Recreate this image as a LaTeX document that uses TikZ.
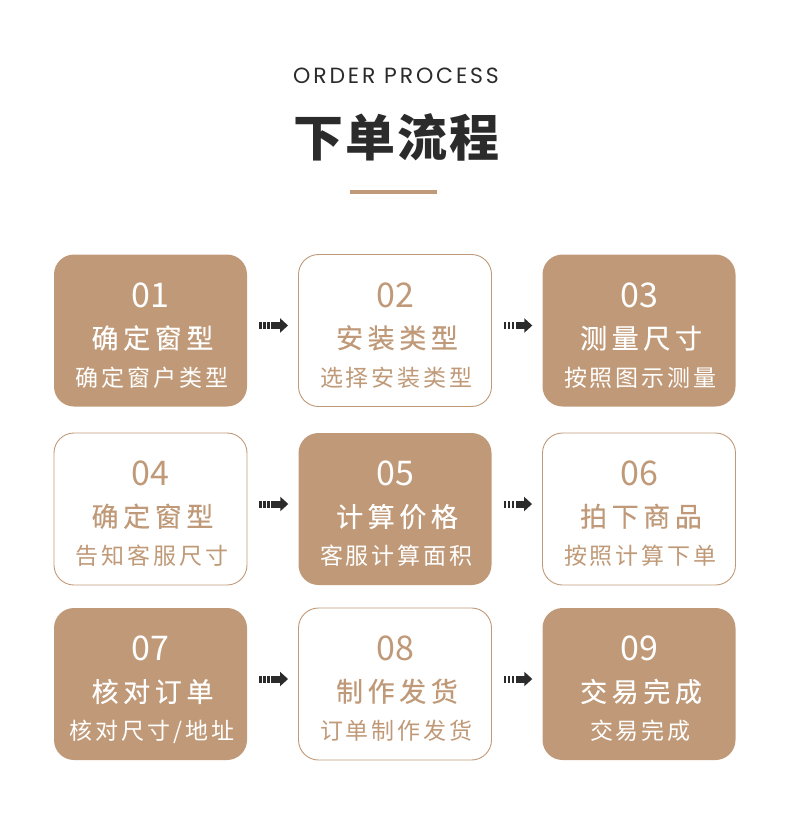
\documentclass[tikz,border=0pt]{standalone}
\usepackage{fontspec}
\setmainfont{Noto Sans CJK SC}
\newfontfamily\headfont[LetterSpace=13]{Poppins}
\newfontfamily\cardhead[FakeBold=0.4, LetterSpace=17]{Noto Sans CJK SC}
\newfontfamily\cardsub[LetterSpace=13]{Noto Sans CJK SC}
\newfontfamily\titlefont[LetterSpace=4]{Noto Sans CJK SC}
\usetikzlibrary{arrows.meta, positioning}
\definecolor{tan}{HTML}{C09A78}
\definecolor{ink}{HTML}{2B2B2B}

\begin{document}
\begin{tikzpicture}[
  x=1pt, y=-1pt,
  every node/.style = {inner sep=0pt},
  card/.style = {
    minimum width=193pt,
    minimum height=152pt,
    rounded corners=20pt
  },
  solid card/.style = {
    card,
    fill=tan
  },
  open card/.style = {
    card,
    fill=white,
    draw=tan,
    line width=0.9pt
  },
  num/.style = {anchor=base, font=\fontsize{34}{34}\selectfont},
  head/.style = {anchor=base, xshift=2pt, font=\cardhead\fontsize{27}{27}\selectfont},
  sub/.style = {anchor=base, xshift=1.5pt, font=\cardsub\fontsize{23}{23}\selectfont},
  flow/.style = {
    ink,
    line width=7pt,
    dash pattern=on 2.5pt off 1.5pt on 2.5pt off 1.5pt on 2.5pt off 1.5pt on 40pt off 0pt,
    -{Triangle[length=8pt, width=14pt]}
  }
]
\useasboundingbox (0,0) rectangle (790,822);

% heading
\node[font=\headfont\fontsize{22}{22}\selectfont, text=ink] (en) at (396,76) {ORDER PROCESS};
\node[font=\titlefont\bfseries\fontsize{50}{50}\selectfont, text=ink] (zh) at (396,137) {下单流程};
\node[fill=tan, minimum width=87pt, minimum height=4pt] (bar) at (393.5,192) {};

% row 1
\node[solid card] (c1) at (150.5,330.5) {};
\node[num, text=white] (n1) at ([yshift=-53pt]c1.north) {01};
\node[head, text=white] (t1) at ([yshift=-94pt]c1.north) {确定窗型};
\node[sub, text=white] (s1) at ([yshift=-132pt]c1.north) {确定窗户类型};

\node[open card] (c2) at (395,330.5) {};
\node[num, text=tan] (n2) at ([yshift=-53pt]c2.north) {02};
\node[head, text=tan] (t2) at ([yshift=-94pt]c2.north) {安装类型};
\node[sub, text=tan] (s2) at ([yshift=-132pt]c2.north) {选择安装类型};

\node[solid card] (c3) at (639,330.5) {};
\node[num, text=white] (n3) at ([yshift=-53pt]c3.north) {03};
\node[head, text=white] (t3) at ([yshift=-94pt]c3.north) {测量尺寸};
\node[sub, text=white] (s3) at ([yshift=-132pt]c3.north) {按照图示测量};

% row 2
\node[open card] (c4) at (150.5,509) {};
\node[num, text=tan] (n4) at ([yshift=-53pt]c4.north) {04};
\node[head, text=tan] (t4) at ([yshift=-94pt]c4.north) {确定窗型};
\node[sub, text=tan] (s4) at ([yshift=-132pt]c4.north) {告知客服尺寸};

\node[solid card] (c5) at (395,509) {};
\node[num, text=white] (n5) at ([yshift=-53pt]c5.north) {05};
\node[head, text=white] (t5) at ([yshift=-94pt]c5.north) {计算价格};
\node[sub, text=white] (s5) at ([yshift=-132pt]c5.north) {客服计算面积};

\node[open card] (c6) at (639,509) {};
\node[num, text=tan] (n6) at ([yshift=-53pt]c6.north) {06};
\node[head, text=tan] (t6) at ([yshift=-94pt]c6.north) {拍下商品};
\node[sub, text=tan] (s6) at ([yshift=-132pt]c6.north) {按照计算下单};

% row 3
\node[solid card] (c7) at (150.5,684) {};
\node[num, text=white] (n7) at ([yshift=-53pt]c7.north) {07};
\node[head, text=white] (t7) at ([yshift=-94pt]c7.north) {核对订单};
\node[sub, text=white] (s7) at ([yshift=-132pt]c7.north) {核对尺寸/地址};

\node[open card] (c8) at (395,684) {};
\node[num, text=tan] (n8) at ([yshift=-53pt]c8.north) {08};
\node[head, text=tan] (t8) at ([yshift=-94pt]c8.north) {制作发货};
\node[sub, text=tan] (s8) at ([yshift=-132pt]c8.north) {订单制作发货};

\node[solid card] (c9) at (639,684) {};
\node[num, text=white] (n9) at ([yshift=-53pt]c9.north) {09};
\node[head, text=white] (t9) at ([yshift=-94pt]c9.north) {交易完成};
\node[sub, text=white] (s9) at ([yshift=-132pt]c9.north) {交易完成};

% arrows
\draw[flow] ([xshift=12pt, yshift=5pt]c1.east) -- ([xshift=-10pt, yshift=5pt]c2.west);
\draw[flow] ([xshift=12pt, yshift=5pt]c2.east) -- ([xshift=-10pt, yshift=5pt]c3.west);
\draw[flow] ([xshift=12pt, yshift=5pt]c4.east) -- ([xshift=-10pt, yshift=5pt]c5.west);
\draw[flow] ([xshift=12pt, yshift=5pt]c5.east) -- ([xshift=-10pt, yshift=5pt]c6.west);
\draw[flow] ([xshift=12pt, yshift=5pt]c7.east) -- ([xshift=-10pt, yshift=5pt]c8.west);
\draw[flow] ([xshift=12pt, yshift=5pt]c8.east) -- ([xshift=-10pt, yshift=5pt]c9.west);

\end{tikzpicture}
\end{document}
